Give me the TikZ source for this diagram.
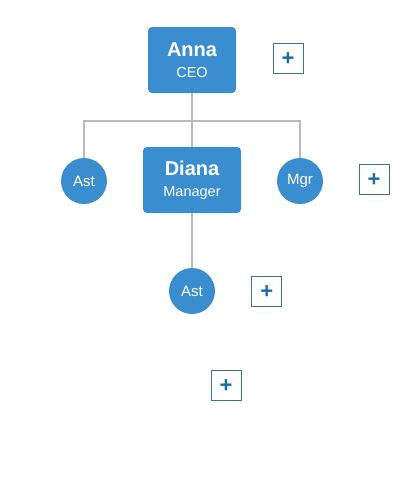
\documentclass[tikz,border=0pt]{standalone}
\usepackage{fontspec}
\setmainfont{Liberation Sans}
\usetikzlibrary{positioning}

\definecolor{nodeblue}{HTML}{3A8DCF}
\definecolor{linegray}{HTML}{BBBBBB}
\definecolor{plusblue}{HTML}{1E6C9C}
\definecolor{plusedge}{HTML}{3E7390}

\newcommand{\namepart}[1]{{\fontsize{20}{22}\bfseries\selectfont #1}}
\newcommand{\rolepart}[1]{{\fontsize{14.5}{16}\selectfont #1}}

\begin{document}
\begin{tikzpicture}[x=1pt,y=-1pt,thick,
  person/.style={rectangle,rounded corners=4pt,fill=nodeblue,text=white,
    minimum width=88pt,minimum height=66pt,align=center,inner sep=0pt},
  small node/.style={circle,fill=nodeblue,text=white,minimum size=46pt,
    inner sep=0pt,font=\fontsize{15}{17}\selectfont},
  plus box/.style={rectangle,draw=plusedge,line width=0.8pt,fill=white,
    minimum size=30pt,inner sep=0pt,text=plusblue,text height=15pt,
    text depth=0pt,font=\fontsize{22}{22}\bfseries\selectfont},
  link/.style={draw=linegray,line width=1.8pt}]

  \useasboundingbox (0,0) rectangle (400,480);

  \node[person] (anna) at (192,60)
    {\namepart{Anna}\\[9pt]\rolepart{CEO}};
  \node[plus box] (plus1) at (288,58) {+};

  \node[person,minimum width=98pt] (diana) at (192,180)
    {\namepart{Diana}\\[9pt]\rolepart{Manager}};
  \node[small node] (ast1) at (84,181) {Ast};
  \node[small node] (mgr) at (300,181) {Mgr};
  \node[plus box] (plus2) at (374,179) {+};

  \node[small node] (ast2) at (192,291) {Ast};
  \node[plus box] (plus3) [right=36pt of ast2] {+};
  \node[plus box] (plus4) at (226,385) {+};

  \coordinate (bus) at (192,121);
  \path[link] (anna.south) -- (bus);
  \path[link] (bus) -| (ast1.north);
  \path[link] (bus) -| (mgr.north);
  \path[link] (bus) -- (diana.north);
  \path[link] (diana.south) -- (ast2.north);
\end{tikzpicture}
\end{document}
